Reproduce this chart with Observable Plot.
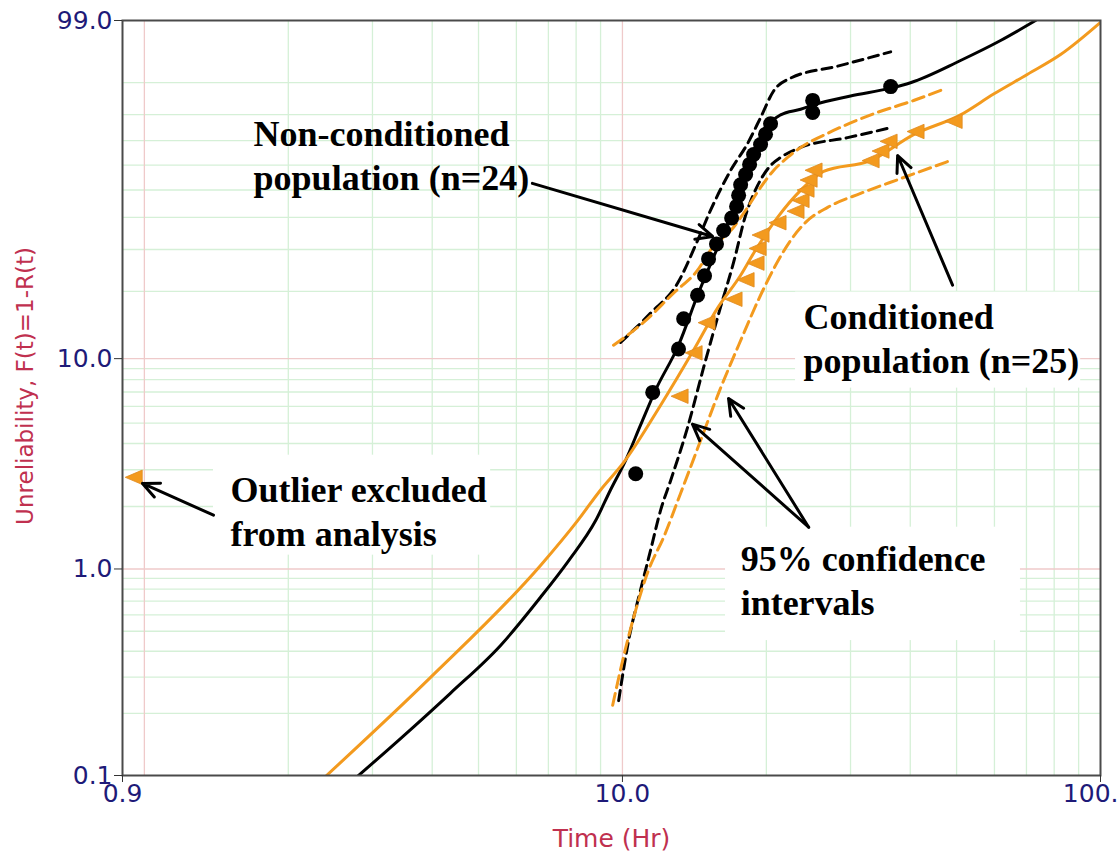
<!DOCTYPE html>
<html>
<head>
<meta charset="utf-8">
<script src="https://cdn.jsdelivr.net/npm/d3@7"></script>
<script src="https://cdn.jsdelivr.net/npm/@observablehq/plot@0.6"></script>
<style>
  html, body { margin: 0; padding: 0; background: #fff; overflow: hidden; }
</style>
</head>
<body>
<div id="chart"></div>
<script>
// Weibull probability plot: time to failure (Hr) vs unreliability F(t) in %.

// Non-conditioned population (n=24): failure times and median-rank unreliability (%)
const nonCondTime = [10.66, 11.57, 13.10, 13.43, 14.36, 14.85, 15.14, 15.73, 16.28, 16.92, 17.33,
  17.50, 17.67, 18.10, 18.45, 18.81, 19.45, 19.92, 20.41, 25.0, 25.0, 36.4];
const nonCondF = [2.87, 6.97, 11.07, 15.16, 19.26, 23.36, 27.46, 31.56, 35.66, 39.75, 43.85,
  47.95, 52.05, 56.15, 60.25, 64.34, 68.44, 72.54, 76.64, 80.74, 84.84, 88.93];

// Conditioned population (n=25)
const condTime = [13.17, 14.09, 15.00, 17.08, 18.10, 18.99, 19.18, 19.45, 21.11, 23.02, 23.59,
  24.16, 24.52, 25.11, 33.05, 34.67, 36.04, 41.04, 49.3];
const condF = [6.69, 10.63, 14.57, 18.50, 22.44, 26.38, 30.31, 34.25, 38.19, 42.13, 46.06,
  50.0, 53.94, 57.87, 61.81, 65.75, 69.69, 73.62, 77.56];

// Outlier excluded from the conditioned analysis
const outlierTime = [0.95];
const outlierF = [2.76];

// Fitted unreliability curves, [time, F%]
const nonCondFit = [[2.805, 0.1], [3.434, 0.151], [4.371, 0.251], [5.56, 0.427], [6.74, 0.73],
  [7.72, 1.098], [8.79, 1.711], [9.44, 2.40], [10.15, 3.32], [10.91, 4.89], [11.73, 7.15],
  [13.10, 11.52], [14.36, 19.26], [16.04, 32.57], [18.10, 53.72], [19.92, 74.7], [21.42, 79.9],
  [23.59, 81.9], [25.11, 83.4], [30.0, 86.2], [36.4, 88.5], [40.05, 89.96], [50.96, 94.74],
  [61.8, 97.48], [73.15, 99.0]];
const condFit = [[2.405, 0.1], [3.969, 0.299], [6.74, 1.04], [8.06, 1.711], [9.0, 2.40],
  [10.06, 3.25], [12.02, 6.07], [14.09, 10.95], [15.81, 16.91], [17.67, 23.47], [18.81, 28.97],
  [21.11, 39.97], [23.59, 49.86], [26.35, 57.4], [33.05, 61.84], [40.65, 72.4], [50.96, 79.9],
  [59.76, 86.8], [70.4, 92.0], [82.5, 95.7], [100, 98.9]];

// 95% confidence bounds, [time, F%]
const nonCondUpper = [[9.91, 11.87], [11.45, 16.07], [13.04, 21.68], [14.36, 32.57], [15.29, 42.5],
  [16.84, 57.8], [18.27, 68.8], [19.45, 78.9], [20.71, 87.7], [22.47, 91.1], [28.19, 93.7], [36.4, 96.1]];
const nonCondLower = [[9.82, 0.2307], [10.30, 0.4506], [10.91, 0.79], [11.45, 1.23], [12.02, 1.92],
  [12.61, 2.66], [13.69, 4.78], [14.79, 9.13], [16.04, 17.08], [17.08, 26.55], [18.10, 40.7],
  [19.18, 51.8], [20.41, 59.8], [21.42, 63.1], [23.59, 67.2], [29.57, 71.2], [36.4, 75.1]];
const condUpper = [[9.58, 11.52], [11.07, 14.61], [12.79, 19.67], [14.36, 24.65], [15.29, 29.8],
  [17.08, 36.7], [18.27, 43.5], [19.45, 51.0], [20.71, 57.8], [22.15, 63.1], [23.59, 67.2],
  [26.87, 72.9], [33.53, 80.3], [40.65, 84.8], [46.98, 88.2]];
const condLower = [[9.54, 0.219], [10.01, 0.3605], [10.66, 0.633], [11.34, 0.988], [12.19, 1.42],
  [13.23, 2.31], [14.57, 4.13], [15.89, 6.92], [17.50, 11.52], [19.45, 19.26], [20.91, 25.84],
  [22.47, 32.57], [24.16, 38.3], [26.87, 43.5], [31.49, 48.7], [38.19, 54.5], [47.88, 61.4]];

// Axis ticks and grid
const xTicks = [0.9, 10, 100];
const xTickLabels = ["0.9", "10.0", "100."];
const yTicks = [0.1, 1, 10, 99];
const yTickLabels = ["0.1", "1.0", "10.0", "99.0"];
const xMajorGrid = [1, 10];
const xMinorGrid = [2, 3, 4, 5, 6, 7, 8, 9, 20, 30, 40, 50, 60, 70, 80, 90];
const yMajorGrid = [1, 10];
const yMinorGrid = [0.2, 0.3, 0.4, 0.5, 0.6, 0.7, 0.8, 0.9, 2, 3, 4, 5, 6, 7, 8, 9,
  20, 30, 40, 50, 60, 70, 80, 90];

// Annotations (positions in data units: time, F%)
const noteLabels = ["Non-conditioned\npopulation (n=24)", "Conditioned\npopulation (n=25)",
  "Outlier excluded\nfrom analysis", "95% confidence\nintervals"];
const noteTime = [1.692, 23.93, 1.514, 17.67];
const noteF = [77.83, 17.59, 2.76, 1.29];
// white panels behind some notes: [t1, t2, F1, F2]
const panels = [[23.02, 90.9, 19.87, 7.30], [1.395, 5.30, 3.52, 1.166], [16.43, 68.0, 1.59, 0.4506]];
// arrows: [t1, F1, t2, F2]
const arrows = [[6.48, 52.6, 15.44, 33.8], [49.04, 21.3, 37.64, 63.9], [1.395, 1.817, 0.991, 2.58],
  [24.52, 1.59, 14.01, 4.94], [24.52, 1.59, 16.67, 6.53]];

// Weibull probability-paper transform
const W = (p) => Math.log(-Math.log(1 - p / 100));

const navy = "#1e1a78";
const crimson = "#c0304f";
const orange = "#f39a1e";
const pink = "#efcaca";
const green = "#d5f0d7";

const pts = (ts, fs) => ts.map((t, i) => ({t, F: fs[i]}));
const nonCond = pts(nonCondTime, nonCondF);
const cond = pts(condTime, condF);
const outlier = pts(outlierTime, outlierF);
const notes = noteLabels.map((label, i) => ({label, t: noteTime[i], F: noteF[i]}));

const leftTriangle = {
  draw(ctx, size) {
    const r = Math.sqrt(size / Math.PI);
    ctx.moveTo(-r, 0);
    ctx.lineTo(r, -r * 0.85);
    ctx.lineTo(r, r * 0.85);
    ctx.closePath();
  }
};

const yLab = new Map(yTicks.map((v, i) => [W(v), yTickLabels[i]]));
const xLab = new Map(xTicks.map((v, i) => [v, xTickLabels[i]]));

const curve = (data, stroke, dash) => Plot.line(data, {
  x: (d) => d[0], y: (d) => W(d[1]), stroke, strokeWidth: 3,
  strokeDasharray: dash, curve: "monotone-x", clip: true
});

const chart = Plot.plot({
  width: 1120,
  height: 854,
  marginLeft: 122,
  marginRight: 20,
  marginTop: 20,
  marginBottom: 79,
  style: {fontFamily: "DejaVu Sans", background: "white"},
  x: {type: "log", domain: [0.9, 100]},
  y: {type: "linear", domain: [W(0.1), W(99)]},
  marks: [
    Plot.ruleX(xMinorGrid, {stroke: green, strokeWidth: 1.3}),
    Plot.ruleY(yMinorGrid, {y: W, stroke: green, strokeWidth: 1.3}),
    Plot.ruleX(xMajorGrid, {stroke: pink, strokeWidth: 1.3}),
    Plot.ruleY(yMajorGrid, {y: W, stroke: pink, strokeWidth: 1.3}),
    Plot.rect(panels, {x1: (d) => d[0], x2: (d) => d[1], y1: (d) => W(d[2]), y2: (d) => W(d[3]), fill: "white"}),
    curve(nonCondUpper, "black", "10,6"),
    curve(nonCondLower, "black", "10,6"),
    curve(condUpper, orange, "12,6"),
    curve(condLower, orange, "12,6"),
    curve(nonCondFit, "black", null),
    curve(condFit, orange, null),
    Plot.dot(cond, {x: "t", y: (d) => W(d.F), symbol: leftTriangle, r: 8.5, fill: orange, stroke: "#e08a20", strokeWidth: 0.8}),
    Plot.dot(outlier, {x: "t", y: (d) => W(d.F), symbol: leftTriangle, r: 8.5, fill: orange, stroke: "#e08a20", strokeWidth: 0.8}),
    Plot.dot(nonCond, {x: "t", y: (d) => W(d.F), r: 7.5, fill: "black"}),
    Plot.frame({stroke: "#4a4a4a", strokeWidth: 2}),
    // tick marks on both axes
    Plot.axisX(xTicks, {tickSize: 7, stroke: "#333", text: null, label: null}),
    Plot.axisY(yTicks.map(W), {tickFormat: (d) => yLab.get(d), tickSize: 8, tickPadding: 2, fontSize: 25,
      fill: navy, stroke: "#333", label: null}),
    // x tick labels; the last one sits flush against the right edge
    Plot.text(xTicks.slice(0, -1), {x: (d) => d, text: (d) => xLab.get(d), frameAnchor: "bottom",
      lineAnchor: "top", dy: 9, fontSize: 25, fill: navy}),
    Plot.text(xTicks.slice(-1), {x: (d) => d, text: (d) => xLab.get(d), frameAnchor: "bottom",
      lineAnchor: "top", textAnchor: "end", dx: 18, dy: 9, fontSize: 25, fill: navy}),
    Plot.text(["Time (Hr)"], {frameAnchor: "bottom", lineAnchor: "middle", dy: 63, fill: crimson, fontSize: 25}),
    Plot.text(["Unreliability, F(t)=1-R(t)"], {frameAnchor: "left", textAnchor: "middle", lineAnchor: "middle",
      rotate: -90, dx: -97, dy: -12, fill: crimson, fontSize: 23}),
    Plot.arrow(arrows, {x1: (d) => d[0], y1: (d) => W(d[1]), x2: (d) => d[2], y2: (d) => W(d[3]),
      stroke: "black", strokeWidth: 3, headLength: 9, headAngle: 50}),
    Plot.text(notes, {x: "t", y: (d) => W(d.F), text: "label", textAnchor: "start", lineAnchor: "top",
      lineHeight: 1.22, dy: -6, fontFamily: "Liberation Serif", fontWeight: "bold", fontSize: 36, fill: "black"})
  ]
});

document.getElementById("chart").appendChild(chart);
</script>
</body>
</html>
